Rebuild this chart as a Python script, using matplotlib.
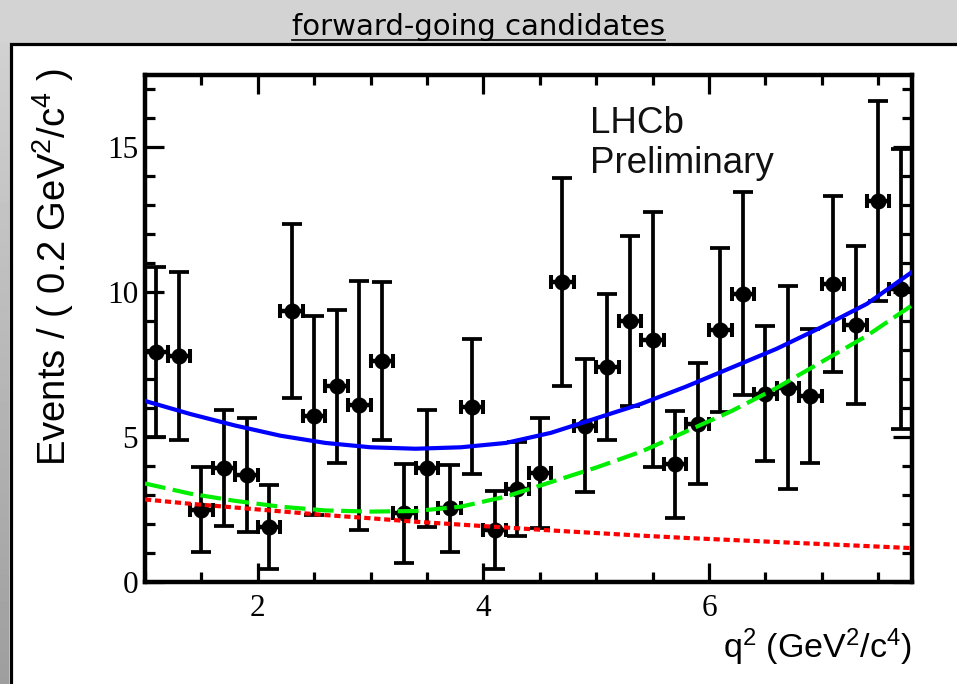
''' q2 distribution of forward-going candidates with fit components '''

import numpy as np
import matplotlib
matplotlib.use("Agg")
import matplotlib.pyplot as plt
from matplotlib.ticker import MultipleLocator
from matplotlib.lines import Line2D
from matplotlib.transforms import IdentityTransform

plt.rcParams['mathtext.fontset'] = 'custom'
plt.rcParams['mathtext.rm'] = 'Liberation Sans'
plt.rcParams['mathtext.it'] = 'Liberation Sans'


# data points, bins of 0.2 GeV^2/c^4
q2 = [1.1, 1.3, 1.5, 1.7, 1.9, 2.1, 2.3, 2.5, 2.7, 2.9, 3.1, 3.3,
      3.5, 3.7, 3.9, 4.1, 4.3, 4.5, 4.7, 4.9, 5.1, 5.3, 5.5, 5.7,
      5.9, 6.1, 6.3, 6.5, 6.7, 6.9, 7.1, 7.3, 7.5, 7.7]
events = [7.95, 7.8, 2.5, 3.92, 3.7, 1.9, 9.35, 5.74, 6.75, 6.1, 7.63, 2.37,
          3.92, 2.55, 6.05, 1.8, 3.22, 3.75, 10.36, 5.39, 7.42, 9.0, 8.36, 4.06,
          5.46, 8.7, 9.95, 6.5, 6.71, 6.42, 10.28, 8.88, 13.16, 10.1]
errors = [2.93, 2.89, 1.47, 2.0, 1.97, 1.45, 3.0, 3.44, 2.65, 4.3, 2.74, 1.71,
          2.02, 1.5, 2.33, 1.34, 1.62, 1.9, 3.58, 2.29, 2.51, 2.93, 4.4, 1.84,
          2.09, 2.83, 3.5, 2.33, 3.49, 2.32, 3.03, 2.72, 3.45, 4.83]

# fit curves
curve_q2 = [1.0, 1.4, 1.8, 2.2, 2.6, 3.0, 3.4, 3.8, 4.2, 4.6, 5.0, 5.4,
            5.8, 6.2, 6.6, 7.0, 7.4, 7.8]
total = [6.25, 5.8, 5.4, 5.05, 4.8, 4.65, 4.6, 4.65, 4.8, 5.15, 5.65, 6.15,
         6.75, 7.4, 8.05, 8.8, 9.6, 10.7]
signal = [3.4, 3.05, 2.8, 2.6, 2.47, 2.43, 2.45, 2.6, 2.95, 3.45, 3.95, 4.5,
          5.2, 5.9, 6.7, 7.6, 8.5, 9.55]
background = [2.85, 2.7, 2.57, 2.44, 2.31, 2.2, 2.08, 1.98, 1.88, 1.78, 1.69, 1.6,
              1.52, 1.45, 1.38, 1.31, 1.24, 1.17]

W, H = 957, 684
fig = plt.figure(figsize=(W / 100, H / 100), dpi=100)
fig.patch.set_facecolor('#d3d3d3')

# white panel with black frame below the header
panel = plt.Rectangle((10.5 / W, -0.01), 1.0, (H - 43.5) / H + 0.01,
                      transform=fig.transFigure, facecolor='white',
                      edgecolor='black', linewidth=2.3, zorder=-5)
fig.patches.append(panel)

# darker grey strip on the left
strip = fig.add_axes([0, 0, 9 / W, (H - 43) / H])
strip.imshow(np.linspace(0.82, 0.62, 100).reshape(-1, 1), cmap='gray',
             vmin=0, vmax=1, aspect='auto')
strip.axis('off')

title = fig.text(0.5, 1 - 35 / H, 'forward-going candidates', ha='center',
                 va='baseline', fontsize=21, family='DejaVu Sans')

ax = fig.add_axes([145 / W, (H - 582) / H, 767 / W, 507 / H])

ax.errorbar(q2, events, yerr=errors, fmt='none', ecolor='black',
            elinewidth=2.7, capsize=7.5, capthick=2.7, zorder=2)
ax.errorbar(q2, events, xerr=0.1, fmt='o', color='black', ms=10.5,
            elinewidth=3.2, capsize=5.2, capthick=2.9, zorder=2)

ax.plot(curve_q2, background, color='#ff0000', lw=3, ls=(0, (1.5, 0.9)),
        solid_capstyle='butt', dash_capstyle='butt', zorder=3)
ax.plot(curve_q2, signal, color='#00ee00', lw=3, ls=(0, (5, 1.8)),
        dash_capstyle='butt', zorder=3)
ax.plot(curve_q2, total, color='#0000ff', lw=3, zorder=4)

ax.set_xlim(1.0, 7.8)
ax.set_ylim(0, 17.5)
ax.set_xticks([2, 4, 6])
ax.set_yticks([0, 5, 10, 15])
ax.xaxis.set_minor_locator(MultipleLocator(0.5))
ax.yaxis.set_minor_locator(MultipleLocator(1))
ax.tick_params(which='both', direction='in', top=True, right=True,
               width=2.3, colors='black', labelsize=22.5,
               labelfontfamily='Liberation Serif')
ax.tick_params(which='major', length=14)
ax.tick_params(which='minor', length=7)
ax.tick_params(axis='x', pad=9)
ax.tick_params(axis='y', pad=5)
for sp in ax.spines.values():
    sp.set_linewidth(3.2)

fig.text(53 / W, 1 - 68 / H, r'Events / ( 0.2 GeV$^{2}$/c$^{4}$ )',
         rotation=90, ha='center', va='top', fontsize=27.5,
         family='Liberation Sans')
fig.text(912 / W, 1 - 658 / H, r'q$^{2}$ (GeV$^{2}$/c$^{4}$)', ha='right',
         va='baseline', fontsize=24.5, family='Liberation Sans')
fig.text(590 / W, 1 - 133 / H, 'LHCb', ha='left', va='baseline',
         fontsize=26.5, family='Liberation Sans', color='#111111')
fig.text(590 / W, 1 - 173 / H, 'Preliminary', ha='left', va='baseline',
         fontsize=26.5, family='Liberation Sans', color='#111111')

# underline the header text
fig.canvas.draw()
bb = title.get_window_extent()
uy = H - 40
fig.lines.append(Line2D([bb.x0, bb.x1], [uy, uy], color='black', lw=1.2,
                        transform=IdentityTransform()))

fig.savefig('out.png', dpi=100, facecolor=fig.get_facecolor())
